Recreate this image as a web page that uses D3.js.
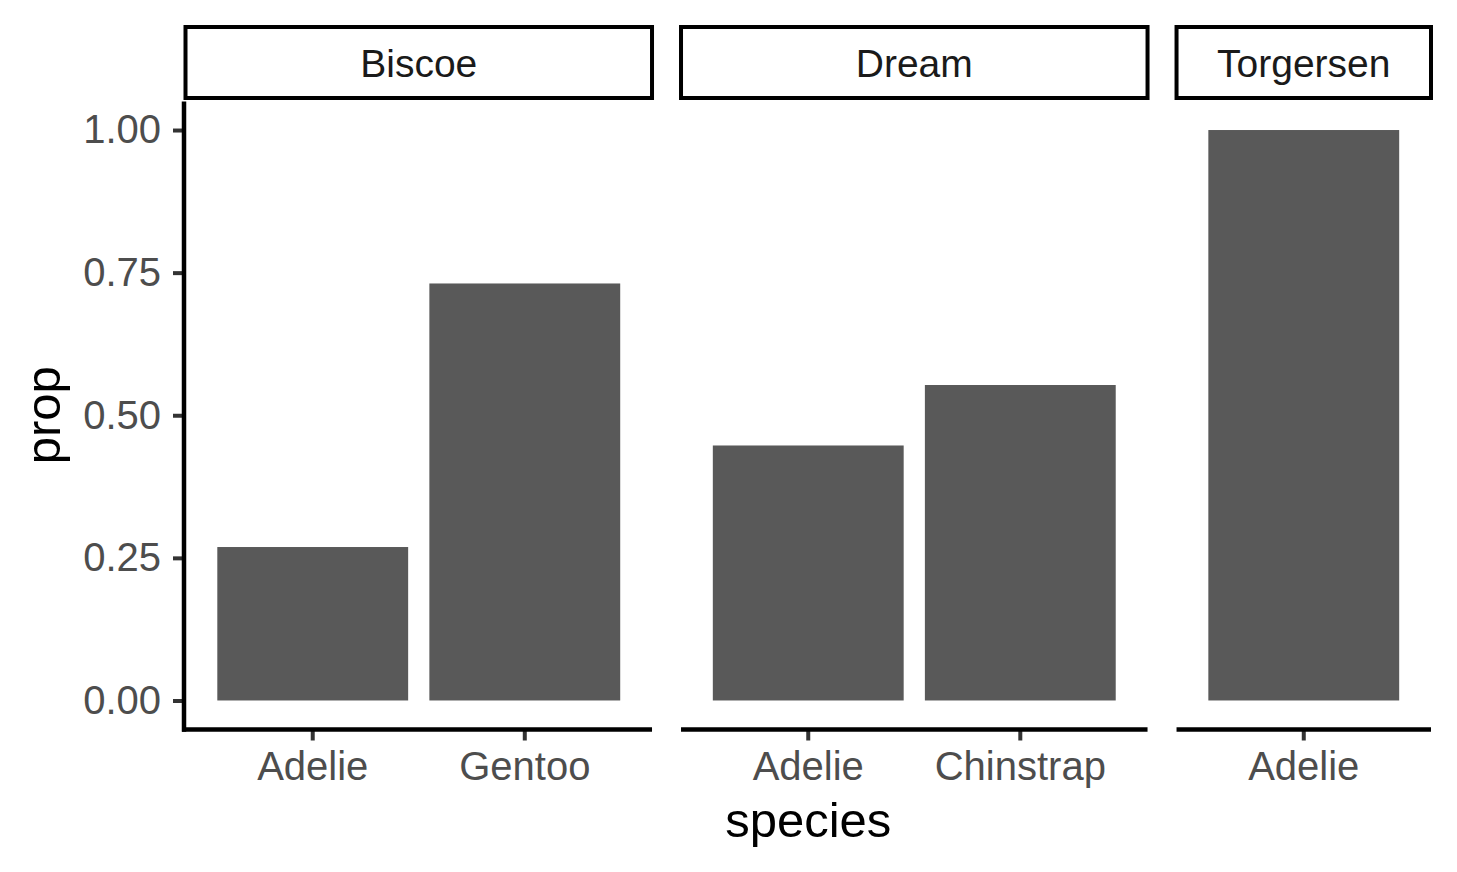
<!DOCTYPE html>
<html>
<head>
<meta charset="utf-8">
<script src="https://cdn.jsdelivr.net/npm/d3@7"></script>
<style>
  html, body { margin: 0; padding: 0; background: #fff; }
  svg { display: block; font-family: "Liberation Sans", Arial, Helvetica, sans-serif; }
</style>
</head>
<body>
<svg id="chart" width="1457" height="872"></svg>
<script>
// ---- data ----
const islands = ["Biscoe", "Dream", "Torgersen"];
const island  = ["Biscoe", "Biscoe", "Dream", "Dream", "Torgersen"];
const species = ["Adelie", "Gentoo", "Adelie", "Chinstrap", "Adelie"];
const prop    = [0.269, 0.731, 0.447, 0.553, 1.0];
const yTicks  = [0, 0.25, 0.5, 0.75, 1.0];
const xTitle = "species";
const yTitle = "prop";

// ---- layout ----
const plotL = 185.5, plotR = 1431, plotT = 101.5, plotB = 729;
const stripTop = 27, stripBottom = 98;
const gap = 29;
const svg = d3.select("#chart");

const rows = island.map((d, i) => ({ island: d, species: species[i], prop: prop[i] }));
const catsBy = islands.map(isl => rows.filter(r => r.island === isl).map(r => r.species));
const units = catsBy.map(c => c.length + 0.2);
const unitW = (plotR - plotL - gap * (islands.length - 1)) / d3.sum(units);

const y = d3.scaleLinear().domain([-0.05, 1.05]).range([plotB, plotT]);

let x0 = plotL;
islands.forEach((isl, k) => {
  const w = units[k] * unitW;
  const x1 = x0 + w;
  const xs = d3.scaleBand().domain(catsBy[k]).range([x0, x1]).paddingInner(0.1).paddingOuter(0.15);
  const g = svg.append("g");

  // bars
  g.selectAll("rect.bar").data(rows.filter(r => r.island === isl)).join("rect")
    .attr("class", "bar")
    .attr("x", d => xs(d.species))
    .attr("width", xs.bandwidth())
    .attr("y", d => y(d.prop))
    .attr("height", d => y(0) - y(d.prop))
    .attr("fill", "#595959");

  // strip
  g.append("rect")
    .attr("x", x0).attr("y", stripTop)
    .attr("width", w).attr("height", stripBottom - stripTop)
    .attr("fill", "#fff").attr("stroke", "#000").attr("stroke-width", 4);
  g.append("text")
    .attr("x", (x0 + x1) / 2).attr("y", (stripTop + stripBottom) / 2)
    .attr("dy", "0.36em")
    .attr("text-anchor", "middle")
    .attr("font-size", 39).attr("fill", "#1A1A1A")
    .text(isl);

  // x axis
  const ax = g.append("g").attr("transform", `translate(0,${plotB + 0.5})`)
    .call(d3.axisBottom(xs).tickSizeOuter(0).tickSizeInner(11).tickPadding(11));
  ax.select(".domain").remove();
  ax.append("line").attr("x1", k === 0 ? x0 - 3.5 : x0).attr("x2", x1)
    .attr("y1", 0).attr("y2", 0).attr("stroke", "#000").attr("stroke-width", 4.5);
  ax.selectAll(".tick line").attr("stroke", "#333").attr("stroke-width", 4);
  ax.selectAll(".tick text").attr("font-size", 40).attr("fill", "#4D4D4D")
    .attr("font-family", "Liberation Sans, Arial, sans-serif");

  x0 = x1 + gap;
});

// y axis
const ay = svg.append("g").attr("transform", `translate(${plotL - 1.5},0)`)
  .call(d3.axisLeft(y).tickValues(yTicks).tickFormat(d3.format(".2f")).tickSizeOuter(0).tickSizeInner(11).tickPadding(12));
ay.select(".domain").remove();
ay.append("line").attr("x1", 0).attr("x2", 0).attr("y1", plotT).attr("y2", plotB + 2.75)
  .attr("stroke", "#000").attr("stroke-width", 4.5);
ay.selectAll(".tick line").attr("stroke", "#333").attr("stroke-width", 4);
ay.selectAll(".tick text").attr("font-size", 40).attr("fill", "#4D4D4D")
  .attr("font-family", "Liberation Sans, Arial, sans-serif");

// titles
svg.append("text").attr("x", (plotL + plotR) / 2).attr("y", 837)
  .attr("text-anchor", "middle").attr("font-size", 49).attr("fill", "#000").text(xTitle);
svg.append("text").attr("transform", `translate(60,${(plotT + plotB) / 2}) rotate(-90)`)
  .attr("text-anchor", "middle").attr("font-size", 49).attr("fill", "#000").text(yTitle);
</script>
</body>
</html>
